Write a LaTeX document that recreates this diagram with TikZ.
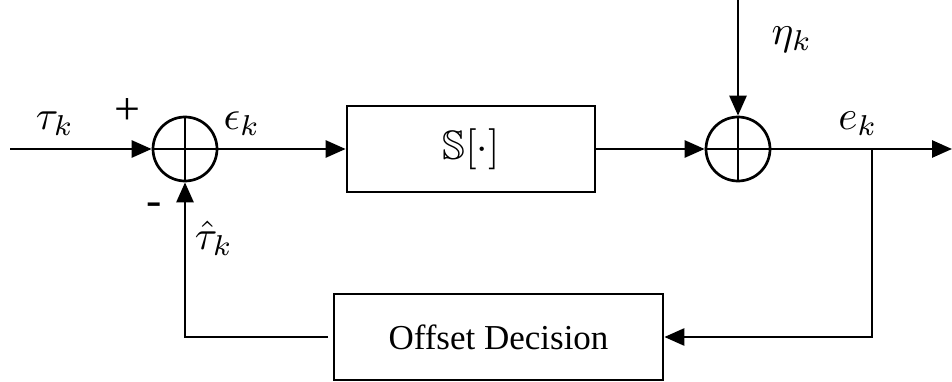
\documentclass[tikz,border=0pt]{standalone}
\usepackage{amssymb}
\usepackage{graphicx}
\usepackage{fontspec}
\setmainfont{Liberation Serif}
\usetikzlibrary{arrows.meta}
\newcommand{\mth}[1]{\scalebox{4.1}{\normalsize$#1$}}
\begin{document}
\begin{tikzpicture}[x=1pt,y=-1pt,line width=2.7pt,
  >={Triangle[length=20pt,width=17pt]},
  font=\fontsize{35}{40}\selectfont,
  sumnode/.style={circle,draw,minimum size=64pt,inner sep=0pt},
  blk/.style={draw,minimum height=86pt,inner sep=0pt},
  lbl/.style={inner sep=0pt},
  sgn/.style={inner sep=0pt,font=\fontsize{46}{50}\selectfont}]
\useasboundingbox (0,0) rectangle (952,382);
\node[sumnode] (s1) at (185,149) {};
\draw (s1.north) -- (s1.south) (s1.west) -- (s1.east);
\node[sumnode] (s2) at (738,149) {};
\draw (s2.north) -- (s2.south) (s2.west) -- (s2.east);
\node[blk,minimum width=248pt] (S) at (471,149) {\mth{\mathbb{S}[\cdot]}};
\node[blk,minimum width=329pt] (od) at (498.5,337) {Offset Decision};
\coordinate (in) at (10,149);
\coordinate (out) at (952,149);
\coordinate (br) at (872,149);
\coordinate (eta) at (738,0);
\coordinate (fbend) at (328,337);
\draw[->] (in) -- (s1.west);
\draw[->] (s1.east) -- (S.west);
\draw[->] (S.east) -- (s2.west);
\draw[->] (eta) -- (s2.north);
\draw[->] (s2.east) -- (out);
\draw[->] (br) |- (od.east);
\draw[->] (fbend) -| (s1.south);
\node[lbl] (ltau) at (55,124) {\mth{\tau_k}};
\node[sgn] (lplus) at (127,112) {+};
\node[lbl] (leps) at (242,124) {\mth{\epsilon_k}};
\node[sgn] (lminus) at (154,209) {-};
\node[lbl] (lhat) at (214,238) {\mth{\hat{\tau}_k}};
\node[lbl] (leta) at (792,40) {\mth{\eta_k}};
\node[lbl] (le) at (858,124) {\mth{e_k}};
\end{tikzpicture}
\end{document}
